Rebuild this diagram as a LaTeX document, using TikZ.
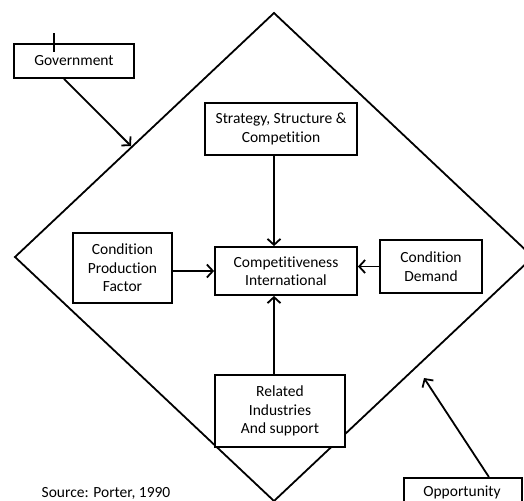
\documentclass[tikz,border=0pt]{standalone}
\usepackage{fontspec}
\setmainfont[Ligatures=NoCommon]{Carlito}
\usetikzlibrary{arrows.meta}
\begin{document}
\begin{tikzpicture}[x=1pt,y=-1pt,line width=1.8pt,
  box/.style={draw,fill=white,align=center,inner sep=0pt,font=\fontsize{15.5}{18.5}\selectfont},
  arr/.style={-{Straight Barb[length=6pt,width=13pt,line width=1.8pt]}}]
  \useasboundingbox (0,0) rectangle (524,500);
  % diamond
  \draw (274,13) -- (533,257) -- (274,501) -- (15,257) -- cycle;
  \node[box,minimum width=120pt,minimum height=34pt] (gov) at (74,61) {Government};
  \node[box,minimum width=152pt,minimum height=52pt] (strat) at (281,129) {Strategy, Structure \&\\Competition};
  \node[box,minimum width=142pt,minimum height=48pt] (comp) at (286,271) {Competitiveness\\International};
  \node[box,minimum width=99pt,minimum height=70pt] (cpf) at (122.5,268) {Condition\\Production\\Factor};
  \node[box,minimum width=102pt,minimum height=53pt] (cd) at (431,266.5) {Condition\\Demand};
  \node[box,minimum width=130pt,minimum height=72pt] (rel) at (280,411) {Related\\Industries\\And support};
  \node[box,minimum width=118pt,minimum height=40pt,anchor=north west] (opp) at (403,477) {};
  \node[font=\fontsize{15.5}{18.5}\selectfont] (opptext) at (462,492) {Opportunity};
  \node[font=\fontsize{15.5}{18.5}\selectfont] (src) at (106,493) {Source: Porter, 1990};
  \coordinate (govend) at (131,146);
  \coordinate (oppend) at (424,378);
  \coordinate (top) at ([xshift=-12pt]comp.north);
  \coordinate (bot) at ([xshift=-12pt]comp.south);
  % small tick on the Government box
  \draw[line width=1.4pt] (gov.north west) ++(41,-10) -- ++(0,19);
  % arrows
  \draw[arr] ([xshift=-10pt]gov.south) -- (govend);
  \draw[arr] (strat.south -| top) -- (top);
  \draw[arr] (cpf.east |- comp.west) -- (comp.west);
  \draw[arr] (cd.west) -- (comp.east |- cd.west);
  \draw[arr] (rel.north -| bot) -- (bot);
  \draw[arr] ([xshift=26pt]opp.north) -- (oppend);
\end{tikzpicture}
\end{document}
